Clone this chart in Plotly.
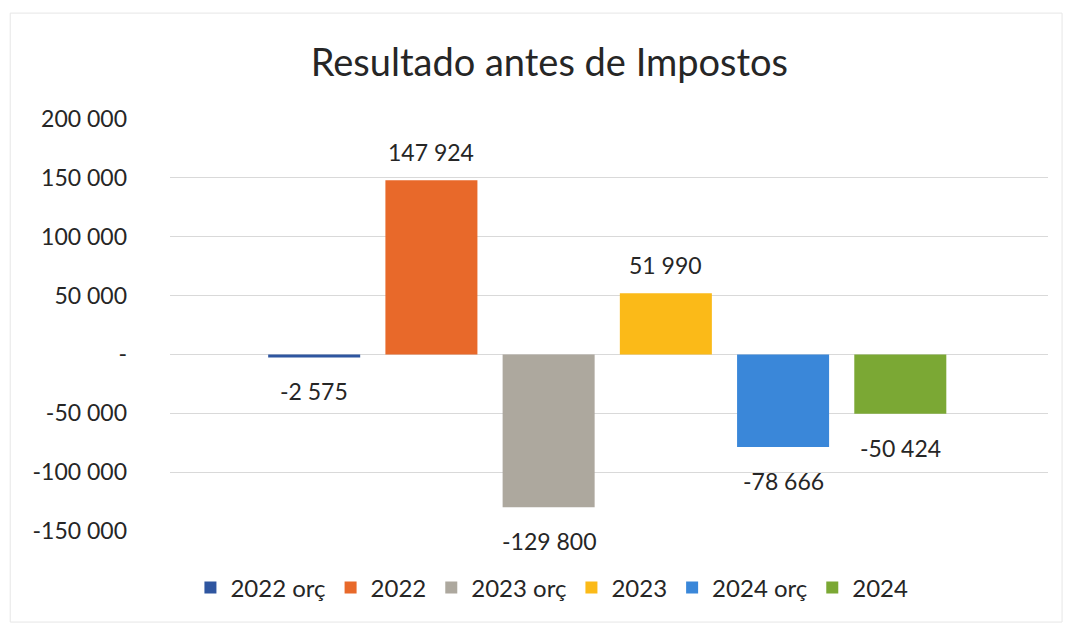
import plotly.graph_objects as go

# Series shown in the chart (one bar per series)
series_names = ["2022 orç", "2022", "2023 orç", "2023", "2024 orç", "2024"]
series_values = [-2575, 147924, -129800, 51990, -78666, -50424]
series_colors = ["#2F56A0", "#E8692A", "#ADA89E", "#FBBA18", "#3A87D9", "#7BA834"]

# Y axis ticks
tick_values = [200000, 150000, 100000, 50000, 0, -50000, -100000, -150000]
tick_labels = ["200 000", "150 000", "100 000", "50 000", "-", "-50 000", "-100 000", "-150 000"]


def fmt(v):
    return f"{v:,}".replace(",", " ")


FONT = "Lato"
TXT = "#262626"

fig = go.Figure()
annotations = []
for i, (name, val, col) in enumerate(zip(series_names, series_values, series_colors)):
    fig.add_trace(go.Bar(
        x=[name], y=[val], name=name, width=0.785,
        marker=dict(color=col, line=dict(width=0)),
        hoverinfo="name+y",
    ))
    # value label just outside the end of each bar (x = category index)
    annotations.append(dict(
        x=i, y=val, xref="x", yref="y", text=fmt(val), showarrow=False,
        yanchor="bottom" if val >= 0 else "top",
        yshift=12 if val >= 0 else -18,
        font=dict(family=FONT, size=23, color=TXT),
    ))

fig.update_layout(
    width=1073, height=626,
    paper_bgcolor="white", plot_bgcolor="white",
    margin=dict(l=170, r=25, t=119, b=95),
    barmode="overlay",
    title=dict(text="Resultado antes de Impostos", x=0.512, xanchor="center",
               y=0.9, yanchor="middle",
               font=dict(family=FONT, size=38, color=TXT)),
    showlegend=True,
    legend=dict(orientation="h", x=0.435, xanchor="center", y=-0.138, yanchor="middle",
                font=dict(family=FONT, size=24, color=TXT), itemwidth=30,
                traceorder="normal"),
    xaxis=dict(type="category", categoryorder="array", categoryarray=series_names,
               range=[-1.23, 6.26], showticklabels=False, showgrid=False,
               zeroline=False, showline=False),
    yaxis=dict(range=[-150000, 200000], tickvals=tick_values, ticktext=tick_labels,
               showgrid=True, gridcolor="#D9D9D9", gridwidth=1,
               zeroline=True, zerolinecolor="#D9D9D9", zerolinewidth=1,
               showline=False, ticks="", ticklabelstandoff=42,
               tickfont=dict(family=FONT, size=23, color=TXT)),
    annotations=annotations,
    shapes=[dict(type="rect", xref="paper", yref="paper",
                 x0=-0.182, x1=1.016, y0=-0.221, y1=1.257,
                 line=dict(color="#E6E6E6", width=1), layer="below")],
)

fig.write_html("out.html")
